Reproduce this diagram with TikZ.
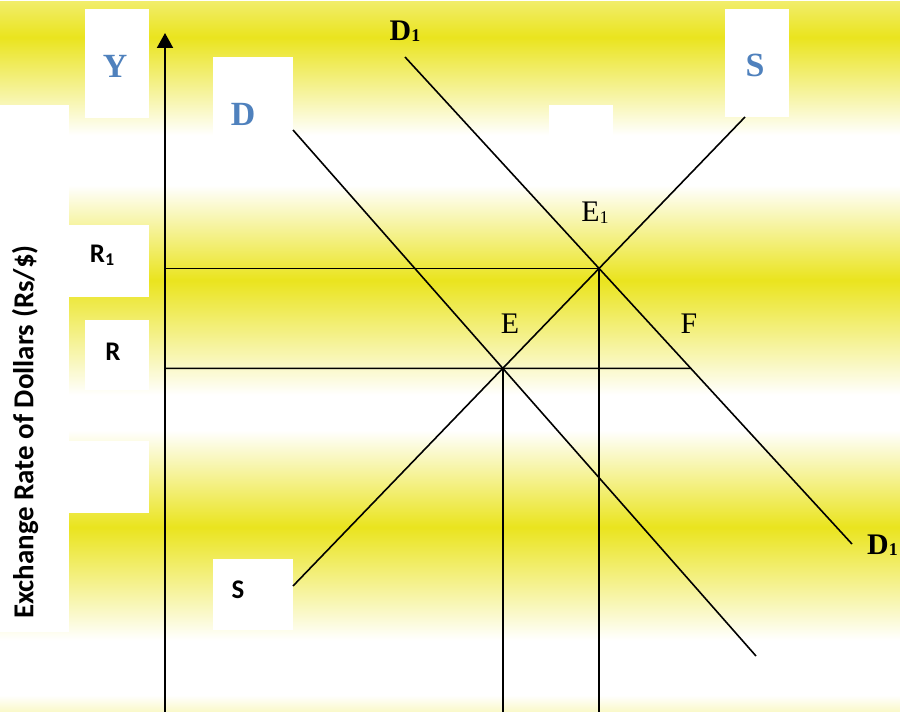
\documentclass[tikz,border=0pt]{standalone}
\usepackage{fontspec}
\setmainfont{Liberation Serif}
\newfontfamily\calfont{Carlito}
\usetikzlibrary{arrows.meta}

\definecolor{bandyellow}{RGB}{234,228,30}
\definecolor{curveblue}{RGB}{79,129,189}
\pgfdeclareverticalshading{bands}{900bp}{color(0bp)=(bandyellow!25); color(17bp)=(white);
  color(72bp)=(white); color(185bp)=(bandyellow); color(282bp)=(white); color(317bp)=(white);
  color(432bp)=(bandyellow); color(527bp)=(white); color(577bp)=(white);
  color(675bp)=(bandyellow); color(712bp)=(bandyellow!65)}
\newcommand{\idx}[2][-2pt]{\raisebox{#1}{\fontsize{18}{18}\selectfont #2}}

\begin{document}
\begin{tikzpicture}[
    x=1bp, y=-1bp,
    curve/.style={line width=1.6bp, draw=black},
    blank/.style={fill=white},
    pointlab/.style={inner sep=0pt, font=\fontsize{30}{30}\selectfont},
    curvelab/.style={inner sep=0pt, font=\fontsize{30}{30}\selectfont\bfseries},
    bluetag/.style={inner sep=0pt, text=curveblue, font=\fontsize{34}{34}\selectfont\bfseries},
    sanstag/.style={inner sep=0pt, font=\calfont\bfseries\fontsize{27}{27}\selectfont},
]
    \useasboundingbox (0,0) rectangle (900,712);
    \node[inner sep=0pt, anchor=north west] (bg) at (0,0) {\pgfuseshading{bands}};

    % white patches behind the labels
    \fill[blank] (0,105) rectangle (69,632);
    \fill[blank] (85,9) rectangle (149,118);
    \fill[blank] (213,57) rectangle (293,147);
    \fill[blank] (549,105) rectangle (613,150);
    \fill[blank] (725,9) rectangle (789,117);
    \fill[blank] (69,225) rectangle (149,297);
    \fill[blank] (85,320) rectangle (149,390);
    \fill[blank] (69,441) rectangle (149,513);
    \fill[blank] (213,559) rectangle (293,630);

    % end points of the curves
    \coordinate (Dtop) at (293,130);
    \coordinate (Dbot) at (756,656);
    \coordinate (D1top) at (405,57);
    \coordinate (D1bot) at (852,544);
    \coordinate (Sbot) at (293,586);
    \coordinate (Stop) at (745,117);
    \coordinate (axisbase) at (165,712);
    \coordinate (axistop) at (165,33);

    \coordinate (E) at (intersection of Dtop--Dbot and Sbot--Stop);
    \coordinate (E1) at (intersection of D1top--D1bot and Sbot--Stop);
    \coordinate (Rleft) at (axisbase |- E);
    \coordinate (R1left) at (axisbase |- E1);
    \coordinate (F) at (intersection of Rleft--E and D1top--D1bot);
    \coordinate (Ebase) at (E |- axisbase);
    \coordinate (E1base) at (E1 |- axisbase);

    \draw[line width=2bp, -{Triangle[length=15bp, width=16bp]}] (axisbase) -- (axistop);
    \draw[curve] (Dtop) -- (Dbot);
    \draw[curve] (D1top) -- (D1bot);
    \draw[curve] (Sbot) -- (Stop);
    \draw[curve] (R1left) -- (E1);
    \draw[curve] (Rleft) -- (F);
    \draw[curve] (E) -- (Ebase);
    \draw[curve] (E1) -- (E1base);

    \node[bluetag] (ylab) at (115,66) {Y};
    \node[bluetag] (dlab) at (243,114) {D};
    \node[bluetag] (stoplab) at (755,65) {S};
    \node[curvelab] (d1toplab) at (405,31) {D\idx[-1pt]{1}};
    \node[curvelab, anchor=west] (d1botlab) at (867,545) {D\idx[-1pt]{1}};
    \node[pointlab] (e1lab) at (595,213) {E\idx{1}};
    \node[pointlab] (elab) at (510,324) {E};
    \node[pointlab] (flab) at (689,324) {F};
    \node[sanstag] (r1lab) at (102,255) {R\idx[-3pt]{1}};
    \node[sanstag] (rlab) at (113,352) {R};
    \node[sanstag] (sbotlab) at (238,590) {S};
    \node[sanstag, rotate=90, font=\calfont\bfseries\fontsize{29}{29}\selectfont] (ratelab) at (25,432) {Exchange Rate of Dollars (Rs/\$)};
\end{tikzpicture}
\end{document}
